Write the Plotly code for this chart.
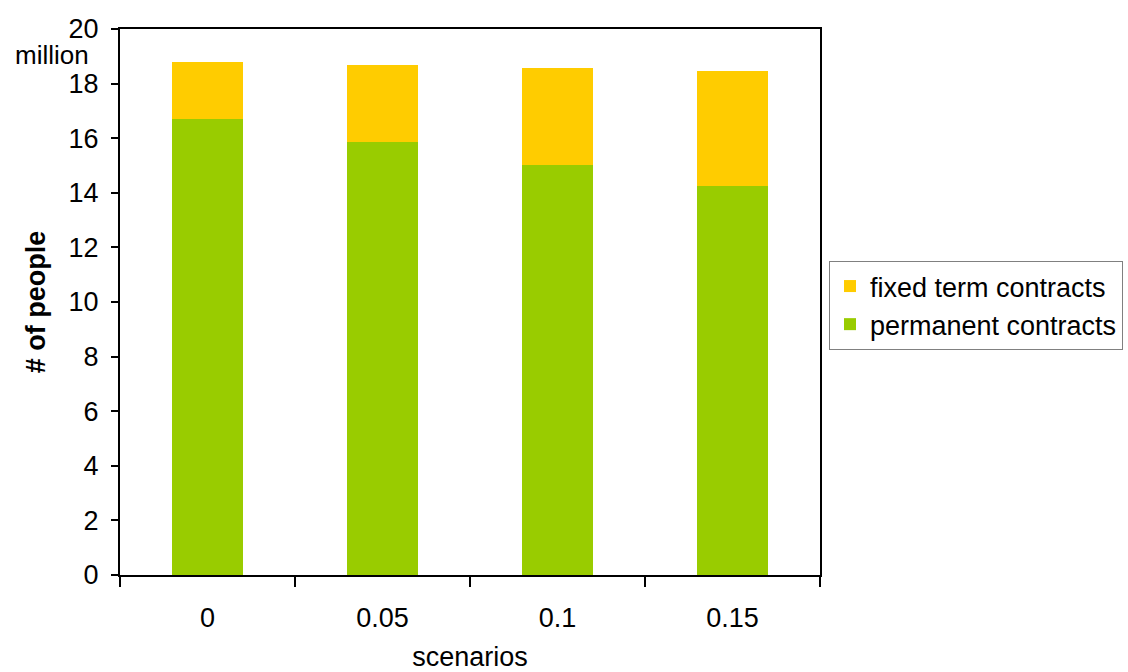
import plotly.graph_objects as go

# Employment by contract type for each scenario (millions of people)
scenarios = ["0", "0.05", "0.1", "0.15"]
permanent = [16.70, 15.86, 15.03, 14.25]
fixed_term = [2.09, 2.82, 3.54, 4.21]

FONT = "Liberation Sans, Arial, sans-serif"

fig = go.Figure()
fig.add_trace(go.Bar(
    x=scenarios, y=permanent, name="permanent contracts",
    marker=dict(color="#99CC00", line=dict(width=0)),
))
fig.add_trace(go.Bar(
    x=scenarios, y=fixed_term, name="fixed term contracts",
    marker=dict(color="#FFCC00", line=dict(width=0)),
))

fig.update_layout(
    barmode="stack",
    bargap=0.594,
    width=1128, height=672,
    margin=dict(l=120, r=308, t=29, b=97, autoexpand=False),
    paper_bgcolor="white",
    plot_bgcolor="white",
    font=dict(family=FONT, size=27, color="black"),
    showlegend=True,
    legend=dict(
        traceorder="reversed",
        xref="container", yref="container",
        x=829 / 1128, xanchor="left",
        y=1 - 261 / 672, yanchor="top",
        bordercolor="#808080", borderwidth=1,
        bgcolor="white",
        font=dict(size=27),
        itemwidth=30,
        tracegroupgap=0,
    ),
    xaxis=dict(
        type="category",
        tickson="boundaries",
        ticks="outside", ticklen=10, tickwidth=2, tickcolor="black",
        ticklabelstandoff=18,
        showline=True, linecolor="black", linewidth=2, mirror=True,
        showgrid=False,
        title=dict(text="scenarios", standoff=22, font=dict(size=27)),
    ),
    yaxis=dict(
        range=[0, 20],
        dtick=2,
        ticks="outside", ticklen=7, tickwidth=2, tickcolor="black",
        ticklabelstandoff=7,
        showline=True, linecolor="black", linewidth=2, mirror=True,
        showgrid=False, zeroline=False,
        title=dict(text="<b># of people</b>", standoff=15, font=dict(size=27)),
    ),
    annotations=[
        dict(text="million", xref="paper", yref="paper",
             x=-0.097, y=0.952, xanchor="center", yanchor="middle",
             showarrow=False, font=dict(size=26)),
    ],
)

fig.write_html("out.html")
